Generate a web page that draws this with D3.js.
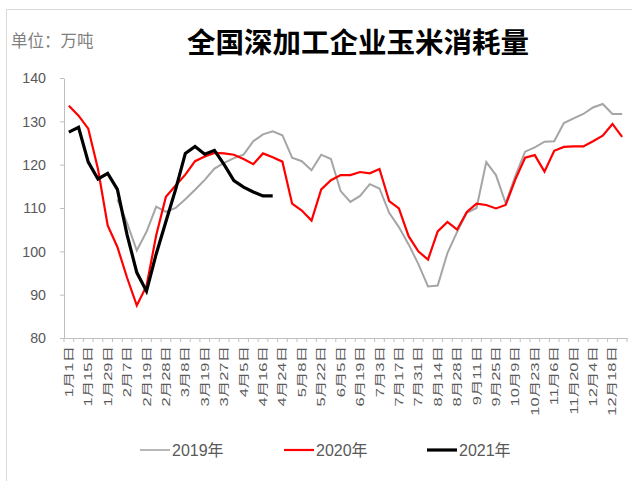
<!DOCTYPE html>
<html>
<head>
<meta charset="utf-8">
<script src="https://cdn.jsdelivr.net/npm/d3@7"></script>
<style>
  body { margin: 0; background: #fff; }
  svg { display: block; }
</style>
</head>
<body>
<div id="chart"></div>
<script>
// categories (weekly dates), only every other one is labelled on the axis
var categories = ["1月1日","1月8日","1月15日","1月22日","1月29日","2月3日","2月7日","2月13日","2月19日","2月24日",
  "2月28日","3月4日","3月8日","3月13日","3月19日","3月23日","3月27日","4月1日","4月5日","4月10日",
  "4月16日","4月20日","4月24日","5月1日","5月8日","5月15日","5月22日","5月29日","6月5日","6月12日",
  "6月19日","6月26日","7月3日","7月10日","7月17日","7月24日","7月31日","8月7日","8月14日","8月21日",
  "8月28日","9月4日","9月11日","9月18日","9月25日","10月2日","10月9日","10月16日","10月23日","10月30日",
  "11月6日","11月13日","11月20日","11月27日","12月4日","12月11日","12月18日","12月25日"];
var tickLabels = categories.filter(function (d, i) { return i % 2 === 0; });
var yTicks = [80, 90, 100, 110, 120, 130, 140];

var s2019 = [null,null,null,null,null,112,106.5,100.2,104.5,110.3,
  109.1,110.0,112.0,114.2,116.5,119.1,120.4,121.5,122.3,125.4,
  127.0,127.7,126.8,121.6,120.8,118.7,122.3,121.3,113.9,111.4,
  112.8,115.5,114.5,108.9,105.6,101.6,97.1,91.9,92.1,99.6,
  104.5,108.9,110.0,120.6,117.6,111.1,117.4,123.0,124.0,125.3,
  125.4,129.6,130.7,131.7,133.2,134.0,131.7,131.7];
var s2020 = [133.6,131.3,128.3,119.0,106.0,101.0,93.9,87.5,92.0,103.7,
  112.6,115.2,117.7,120.8,121.9,122.7,122.6,122.3,121.3,120.1,
  122.6,121.7,120.7,111.0,109.4,107.1,114.3,116.4,117.6,117.6,
  118.3,118.0,119.0,111.6,109.9,103.5,100.0,98.1,104.6,106.8,
  105.0,109.1,111.0,110.7,109.9,110.7,116.6,121.6,122.2,118.4,
  123.2,124.1,124.2,124.2,125.4,126.7,129.4,126.4];
var s2021 = [127.5,128.6,120.6,116.7,118.0,114.3,103.8,95.1,90.8,99.4,
  106.9,114.3,122.6,124.2,122.4,123.3,120.0,116.3,114.8,113.7,
  112.8,112.8,null,null,null,null,null,null,null,null,
  null,null,null,null,null,null,null,null,null,null,
  null,null,null,null,null,null,null,null,null,null,
  null,null,null,null,null,null,null,null];

var seriesNames = ["2019年", "2020年", "2021年"];
var seriesColors = ["#a5a5a5", "#ff0000", "#000000"];
var seriesWidths = [2, 2.2, 3.2];
var seriesData = [s2019, s2020, s2021];

var width = 632, height = 481;
var margin = { left: 64, right: 5, top: 78, bottom: 144 };
var numFont = "'Liberation Sans', Arial, 'Noto Sans CJK SC', sans-serif";
var axisColor = "#bfbfbf", textColor = "#595959";

var svg = d3.select("#chart").append("svg")
    .attr("width", width)
    .attr("height", height);

// outer frame
svg.append("rect")
    .attr("x", 6.5).attr("y", 9.5)
    .attr("width", 700).attr("height", 600)
    .attr("fill", "none")
    .attr("stroke", "#d9d9d9");

var x = d3.scaleBand()
    .domain(categories)
    .range([margin.left, width - margin.right])
    .paddingInner(0).paddingOuter(0);
var y = d3.scaleLinear()
    .domain([80, 140])
    .range([height - margin.bottom + 1, margin.top]);
var cx = function (c) { return x(c) + x.bandwidth() / 2; };

// y axis
var yAxis = svg.append("g")
    .attr("transform", "translate(" + margin.left + ",0)")
    .call(d3.axisLeft(y).tickValues(yTicks).tickSize(4).tickSizeOuter(0));
yAxis.selectAll("path, line").attr("stroke", axisColor);
yAxis.selectAll("text")
    .attr("x", 0)
    .attr("transform", "translate(-18,0) scale(0.95,1)")
    .attr("fill", textColor)
    .style("font-family", numFont)
    .style("font-size", "15px");

// x axis
var x0 = y(80);
var xAxis = svg.append("g")
    .attr("transform", "translate(0," + x0 + ")")
    .call(d3.axisBottom(x).tickValues(tickLabels).tickSize(0).tickSizeOuter(0));
xAxis.select(".domain").attr("stroke", axisColor);
xAxis.selectAll("text")
    .attr("x", 0).attr("y", 0).attr("dy", "0.35em")
    .attr("text-anchor", "end")
    .attr("transform", "translate(0,8) scale(0.7,1) rotate(-90)")
    .attr("fill", textColor)
    .style("font-family", numFont)
    .style("font-size", "16.5px");

// tick marks between categories
var bounds = categories.map(function (c) { return x(c); }).concat([x.range()[1]]);
svg.append("g").selectAll("line")
    .data(bounds)
    .join("line")
    .attr("x1", function (d) { return d; })
    .attr("x2", function (d) { return d; })
    .attr("y1", x0).attr("y2", x0 + 4)
    .attr("stroke", axisColor);

// lines
var line = d3.line()
    .defined(function (d) { return d != null; })
    .x(function (d, i) { return cx(categories[i]); })
    .y(function (d) { return y(d); });

svg.append("g").selectAll("path")
    .data(seriesData)
    .join("path")
    .attr("d", line)
    .attr("fill", "none")
    .attr("stroke", function (d, i) { return seriesColors[i]; })
    .attr("stroke-width", function (d, i) { return seriesWidths[i]; })
    .attr("stroke-linejoin", "miter");

// title and unit
svg.append("text")
    .attr("x", 358).attr("y", 40)
    .attr("text-anchor", "middle")
    .attr("dominant-baseline", "central")
    .style("font-family", "'Noto Sans CJK SC', sans-serif")
    .style("font-weight", "700")
    .style("font-size", "28.5px")
    .attr("fill", "#000")
    .text("全国深加工企业玉米消耗量");
svg.append("text")
    .attr("x", 11).attr("y", 40)
    .attr("dominant-baseline", "central")
    .style("font-family", "'Noto Sans CJK SC', sans-serif")
    .style("font-size", "16.5px")
    .attr("fill", "#7f7f7f")
    .text("单位：万吨");

// legend
var legendX = [140, 284, 427];
var legend = svg.append("g").selectAll("g")
    .data(seriesNames)
    .join("g")
    .attr("transform", function (d, i) { return "translate(" + legendX[i] + ",450)"; });
legend.append("line")
    .attr("x1", 0).attr("x2", 30)
    .attr("stroke", function (d, i) { return seriesColors[i]; })
    .attr("stroke-width", function (d, i) { return [1.6, 2.2, 3.2][i]; });
legend.append("text")
    .attr("x", 32).attr("dy", "0.35em")
    .attr("fill", textColor)
    .style("font-family", numFont)
    .style("font-size", "16px")
    .text(function (d) { return d; });
</script>
</body>
</html>
